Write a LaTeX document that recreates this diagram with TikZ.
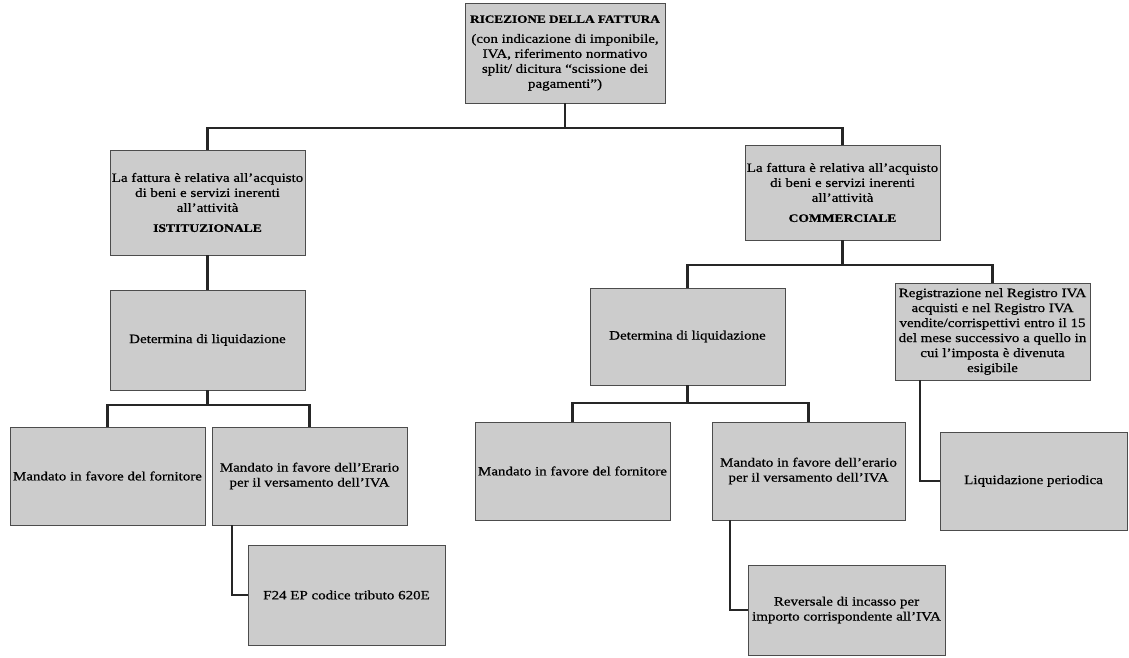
\documentclass[tikz,border=0pt]{standalone}
\usepackage{fontspec}
\setmainfont{Liberation Serif}[FakeStretch=1.18,FakeBold=0.7]
\usetikzlibrary{shadows}
\begin{document}
\begin{tikzpicture}[x=1pt,y=-1pt,
  box/.style={draw=black!70, line width=0.6pt, fill=black!20, align=center,
    inner sep=1pt, font=\fontsize{12.7}{15}\selectfont,
    drop shadow={shadow xshift=1.3pt, shadow yshift=-1.3pt, fill=black!65, opacity=0.9}},
  conn/.style={line width=2.2pt, draw=black!85}]
\useasboundingbox (0,0) rectangle (1129,658);
\fill[white] (0,0) rectangle (1129,658);

\node[box, minimum width=200pt, minimum height=100pt] (top) at (565,53)
  {{\fontsize{11.2}{15}\selectfont\textbf{RICEZIONE DELLA FATTURA}}\\[5pt](con indicazione di imponibile,\\IVA, riferimento normativo\\split/ dicitura ``scissione dei\\pagamenti'')};
\node[box, minimum width=195pt, minimum height=105pt] (inst) at (207.5,202.5)
  {La fattura è relativa all'acquisto\\di beni e servizi inerenti\\all'attività\\[5pt]{\fontsize{11.5}{15}\selectfont\textbf{ISTITUZIONALE}}};
\node[box, minimum width=195pt, minimum height=95pt] (comm) at (842.5,192.5)
  {La fattura è relativa all'acquisto\\di beni e servizi inerenti\\all'attività\\[5pt]{\fontsize{11.5}{15}\selectfont\textbf{COMMERCIALE}}};
\node[box, minimum width=195pt, minimum height=100pt] (detL) at (207.5,340)
  {Determina di liquidazione};
\node[box, minimum width=195pt, minimum height=97pt] (detR) at (687.5,336.5)
  {Determina di liquidazione};
\node[box, minimum width=195pt, minimum height=97pt] (reg) at (992.5,331.5)
  {Registrazione nel Registro IVA\\acquisti e nel Registro IVA\\vendite/corrispettivi entro il 15\\del mese successivo a quello in\\cui l'imposta è divenuta\\esigibile};
\node[box, minimum width=195pt, minimum height=98pt] (mfL) at (107.5,476)
  {Mandato in favore del fornitore};
\node[box, minimum width=195pt, minimum height=98pt] (meL) at (309.5,476)
  {Mandato in favore dell'Erario\\per il versamento dell'IVA};
\node[box, minimum width=197pt, minimum height=100pt] (f24) at (346.5,595)
  {F24 EP codice tributo 620E};
\node[box, minimum width=195pt, minimum height=98pt] (mfR) at (572.5,471)
  {Mandato in favore del fornitore};
\node[box, minimum width=193pt, minimum height=98pt] (meR) at (808.5,471)
  {Mandato in favore dell'erario\\per il versamento dell'IVA};
\node[box, minimum width=197pt, minimum height=90pt] (rev) at (846.5,610)
  {Reversale di incasso per\\importo corrispondente all'IVA};
\node[box, minimum width=187pt, minimum height=98pt] (liq) at (1033.5,481)
  {Liquidazione periodica};

\coordinate (y1) at (0,128);
\coordinate (y2) at (0,405);
\coordinate (y3) at (0,265);
\coordinate (y4) at (0,403);
\coordinate (xa) at (232,0);
\coordinate (xb) at (730,0);
\coordinate (xc) at (920,0);

\draw[conn] (top.south) -- (top.south |- y1);
\draw[conn] (inst.north) -- (inst.north |- y1) -- (comm.north |- y1) -- (comm.north);
\draw[conn] (inst.south) -- (detL.north);
\draw[conn] (detL.south) -- (detL.south |- y2);
\draw[conn] (mfL.north) -- (mfL.north |- y2) -- (meL.north |- y2) -- (meL.north);
\draw[conn] (meL.south -| xa) |- (f24.west);
\draw[conn] (comm.south) -- (comm.south |- y3);
\draw[conn] (detR.north) -- (detR.north |- y3) -- (reg.north |- y3) -- (reg.north);
\draw[conn] (detR.south) -- (detR.south |- y4);
\draw[conn] (mfR.north) -- (mfR.north |- y4) -- (meR.north |- y4) -- (meR.north);
\draw[conn] (meR.south -| xb) |- (rev.west);
\draw[conn] (reg.south -| xc) |- (liq.west);
\end{tikzpicture}
\end{document}
